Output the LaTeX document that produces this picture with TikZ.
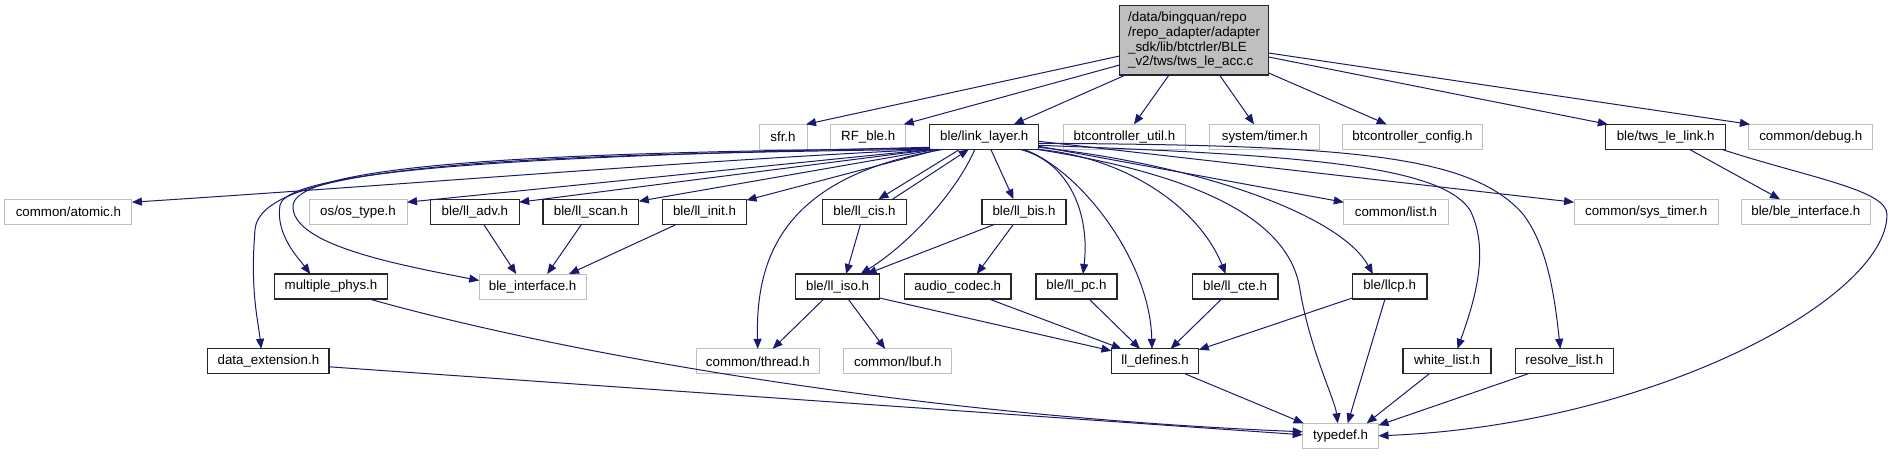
\documentclass[tikz,border=0pt]{standalone}
\usepackage{fontspec}
\setmainfont{Liberation Sans}
\usetikzlibrary{calc,arrows.meta}
\definecolor{navy}{HTML}{191970}
\definecolor{grey75}{HTML}{BFBFBF}
\tikzset{
  base/.style={rectangle, inner sep=0pt, outer sep=0pt, minimum height=18.75pt, font=\fontsize{10}{11}\selectfont, fill=white},
  gbox/.style={base, draw=grey75, line width=0.75pt},
  bbox/.style={base, draw=black!85, line width=0.9pt},
  e/.style={draw=navy, line width=0.75pt, -{Triangle[length=7.5pt,width=6pt]}},
}
\begin{document}
\begin{tikzpicture}[x=0.75pt,y=-0.75pt]
\fill[white] (0,0) rectangle (1892,455);
\useasboundingbox (0,0) rectangle (1892,455);
% root
\node[base, draw=black!85, line width=0.9pt, fill=grey75, minimum width=111.9pt, minimum height=52pt, align=left] (root) at (1194.1,40.35)
 {/data/bingquan/repo\\/repo\_adapter/adapter\\\_sdk/lib/btctrler/BLE\\\_v2/tws/tws\_le\_acc.c};
% row 1
\node[gbox, minimum width=36pt]    (sfr)      at (783,136.8)   {sfr.h};
\node[gbox, minimum width=56.25pt] (rfble)    at (868.2,136.8) {RF\_ble.h};
\node[bbox, minimum width=81.75pt] (ll)       at (984.3,136.8) {ble/link\_layer.h};
\node[gbox, minimum width=91.2pt]  (btutil)   at (1124.5,136.8) {btcontroller\_util.h};
\node[gbox, minimum width=82.5pt]  (systimer) at (1264.8,136.8) {system/timer.h};
\node[gbox, minimum width=104.6pt] (btcfg)    at (1412.4,136.8) {btcontroller\_config.h};
\node[bbox, minimum width=89.8pt]  (tws)      at (1665.7,136.8) {ble/tws\_le\_link.h};
\node[gbox, minimum width=92.85pt] (debug)    at (1810.8,136.8) {common/debug.h};
% row 2
\node[gbox, minimum width=95.25pt] (atomic) at (68.4,211.7)  {common/atomic.h};
\node[gbox, minimum width=73.5pt]  (ostype) at (358,211.7)   {os/os\_type.h};
\node[bbox, minimum width=66.45pt] (adv)    at (474.9,211.7) {ble/ll\_adv.h};
\node[bbox, minimum width=71.85pt] (scan)   at (590.9,211.7) {ble/ll\_scan.h};
\node[bbox, minimum width=63pt]    (init)   at (704.5,211.7) {ble/ll\_init.h};
\node[bbox, minimum width=63pt]    (cis)    at (864.5,211.7) {ble/ll\_cis.h};
\node[bbox, minimum width=63pt]    (bis)    at (1024,211.7)  {ble/ll\_bis.h};
\node[gbox, minimum width=78.3pt]  (list)   at (1396,211.7)  {common/list.h};
\node[gbox, minimum width=108.2pt] (systmr) at (1646.2,211.7) {common/sys\_timer.h};
\node[gbox, minimum width=96.75pt] (bleif2) at (1805.8,211.7) {ble/ble\_interface.h};
% row 3
\node[bbox, minimum width=85.1pt]  (mphys) at (331,286.5)    {multiple\_phys.h};
\node[gbox, minimum width=80.1pt]  (bleif) at (532.6,286.5)  {ble\_interface.h};
\node[bbox, minimum width=63pt]    (iso)   at (837.6,286.5)  {ble/ll\_iso.h};
\node[bbox, minimum width=79.9pt]  (audio) at (957.8,286.5)  {audio\_codec.h};
\node[bbox, minimum width=60.75pt] (pc)    at (1076.5,286.5) {ble/ll\_pc.h};
\node[bbox, minimum width=64.35pt] (cte)   at (1235.1,286.5) {ble/ll\_cte.h};
\node[bbox, minimum width=55.95pt] (llcp)  at (1389.6,286.5) {ble/llcp.h};
% row 4
\node[bbox, minimum width=90.9pt]  (dext)    at (268.4,361.3)  {data\_extension.h};
\node[gbox, minimum width=92.25pt] (thread)  at (757.8,361.3)  {common/thread.h};
\node[gbox, minimum width=81pt]    (lbuf)    at (897.8,361.3)  {common/lbuf.h};
\node[bbox, minimum width=65.55pt] (defs)    at (1155.1,361.3) {ll\_defines.h};
\node[bbox, minimum width=66pt]    (white)   at (1447,361.3)   {white\_list.h};
\node[bbox, minimum width=73.8pt]  (resolve) at (1564.3,361.3) {resolve\_list.h};
% row 5
\node[gbox, minimum width=56.85pt] (typedef) at (1340.6,435.8) {typedef.h};

% root edges
\draw[e] ($(root.south west)+(0,-19)$) -- ($(sfr.north east)+(-1,0)$);
\draw[e] ($(root.south west)+(0,-10)$) -- ($(rfble.north east)+(-2,0)$);
\draw[e] ($(root.south west)+(6,0)$) -- ($(ll.north west)+(84,0)$);
\draw[e] ($(root.south west)+(49.5,0)$) -- ($(btutil.north west)+(70.3,0)$);
\draw[e] ($(root.south west)+(100,0)$) -- ($(systimer.north west)+(44.2,0)$);
\draw[e] ($(root.south east)+(0,-2)$) -- ($(btcfg.north west)+(44,0)$);
\draw[e] ($(root.south east)+(0,-18)$) -- ($(tws.north west)+(2,0)$);
\draw[e] ($(root.south east)+(0,-22)$) -- ($(debug.north west)+(1,0)$);
% tws edges
\draw[e] ($(tws.south west)+(83.5,0)$) -- ($(bleif2.north west)+(38.7,0)$);
\draw[e] ($(tws.south west)+(115.7,0)$) .. controls (1810,178) and (1888,190) .. (1887,215)
   .. controls (1886,300) and (1650,425) .. (typedef.east);
% link_layer edges
\draw[e] ($(ll.south west)+(1,0)$) .. controls (700,160) and (400,185) .. ($(atomic.north east)+(0,3)$);
\draw[e] ($(ll.south west)+(2,0)$) -- ($(ostype.north east)+(0,3)$);
\draw[e] ($(ll.south west)+(4,0)$) -- ($(adv.north east)+(0,3)$);
\draw[e] ($(ll.south west)+(7,0)$) -- ($(scan.north east)+(0,2)$);
\draw[e] ($(ll.south west)+(10,0)$) -- ($(init.north east)+(0,1)$);
\draw[e] ($(ll.south west)+(30,0)$) -- ($(cis.north west)+(56,0)$);
\draw[e] ($(cis.north west)+(70,0)$) -- ($(ll.south west)+(39,0)$);
\draw[e] ($(ll.south west)+(45,0)$) .. controls (960,185) and (915,240) .. ($(iso.north west)+(65,0)$);
\draw[e] ($(ll.south west)+(61,0)$) -- ($(bis.north west)+(31.5,0)$);
\draw[e] ($(ll.south west)+(14,0)$) .. controls (790,175) and (755,250) .. (thread.north);
\draw[e] ($(ll.south west)+(90,0)$) .. controls (1070,162) and (1090,215) .. ($(pc.north west)+(47,0)$);
\draw[e] ($(ll.south west)+(94,0)$) .. controls (1080,170) and (1150,260) .. ($(defs.north west)+(40.6,0)$);
\draw[e] ($(ll.south east)+(-1,0)$) .. controls (1130,158) and (1200,210) .. ($(cte.north west)+(33.5,0)$);
\draw[e] ($(ll.south east)+(0,-2)$) .. controls (1200,165) and (1340,215) .. ($(llcp.north west)+(20.6,0)$);
\draw[e] ($(ll.south east)+(-2,0)$) .. controls (1200,175) and (1290,220) .. (1300,290)
   .. controls (1310,350) and (1335,400) .. ($(typedef.north west)+(35,0)$);
\draw[e] ($(ll.south east)+(0,-4)$) .. controls (1300,155) and (1440,165) .. (1470,210)
   .. controls (1490,250) and (1475,300) .. ($(white.north west)+(54.4,0)$);
\draw[e] ($(ll.south east)+(0,-6)$) .. controls (1350,145) and (1470,155) .. (1522,213)
   .. controls (1548,245) and (1555,300) .. ($(resolve.north west)+(45.2,0)$);
\draw[e] ($(ll.south east)+(0,-3)$) -- ($(list.north west)+(0,3)$);
\draw[e] ($(ll.south east)+(0,-8)$) -- ($(systmr.north west)+(0,3)$);
\draw[e] ($(ll.south west)+(0,-2)$) .. controls (600,155) and (290,165) .. (280,205)
   .. controls (275,235) and (300,260) .. ($(mphys.north west)+(36,0)$);
\draw[e] ($(ll.south west)+(0,-1)$) .. controls (600,152) and (300,160) .. (293,205)
   .. controls (290,245) and (400,265) .. ($(bleif.west)+(0,-6)$);
\draw[e] (ll.south west) .. controls (500,155) and (260,165) .. (255,230)
   .. controls (250,290) and (258,320) .. ($(dext.north west)+(53.4,0)$);
% row 2 -> row 3
\draw[e] ($(adv.south west)+(53,0)$) -- ($(bleif.north west)+(37,0)$);
\draw[e] ($(scan.south west)+(38.6,0)$) -- ($(bleif.north west)+(68,0)$);
\draw[e] ($(init.south west)+(14.3,0)$) -- ($(bleif.north east)+(-17,0)$);
\draw[e] ($(cis.south west)+(38,0)$) -- ($(iso.north west)+(50.5,0)$);
\draw[e] ($(bis.south west)+(13,0)$) -- ($(iso.north west)+(71,0)$);
\draw[e] ($(bis.south west)+(31.5,0)$) -- ($(audio.north west)+(72.2,0)$);
% row 3 -> row 4
\draw[e] ($(iso.south west)+(28.2,0)$) -- ($(thread.north west)+(76.4,0)$);
\draw[e] ($(iso.south west)+(52.5,0)$) -- ($(lbuf.north west)+(41.3,0)$);
\draw[e] ($(iso.south east)+(0,-1)$) -- ($(defs.north west)+(0,2)$);
\draw[e] ($(audio.south west)+(84.5,0)$) -- ($(defs.north west)+(10.2,0)$);
\draw[e] ($(pc.south west)+(53,0)$) -- ($(defs.north west)+(28.6,0)$);
\draw[e] ($(cte.south west)+(29.4,0)$) -- ($(defs.north west)+(59.2,0)$);
\draw[e] ($(llcp.south west)+(0,-1)$) -- ($(defs.north east)+(0,1)$);
\draw[e] ($(llcp.south west)+(32.7,0)$) -- ($(typedef.north west)+(45,0)$);
% row 4 -> typedef
\draw[e] ($(defs.south west)+(73.6,0)$) -- ($(typedef.north west)+(1,0)$);
\draw[e] ($(white.south west)+(26.2,0)$) -- ($(typedef.north west)+(64,0)$);
\draw[e] ($(resolve.south west)+(13,0)$) -- ($(typedef.north east)+(0,2)$);
\draw[e] ($(mphys.south west)+(95,0)$) .. controls (550,350) and (900,415) .. ($(typedef.west)+(0,-4)$);
\draw[e] ($(dext.north east)+(0,18)$) -- ($(typedef.west)+(0,-1)$);
\end{tikzpicture}
\end{document}
